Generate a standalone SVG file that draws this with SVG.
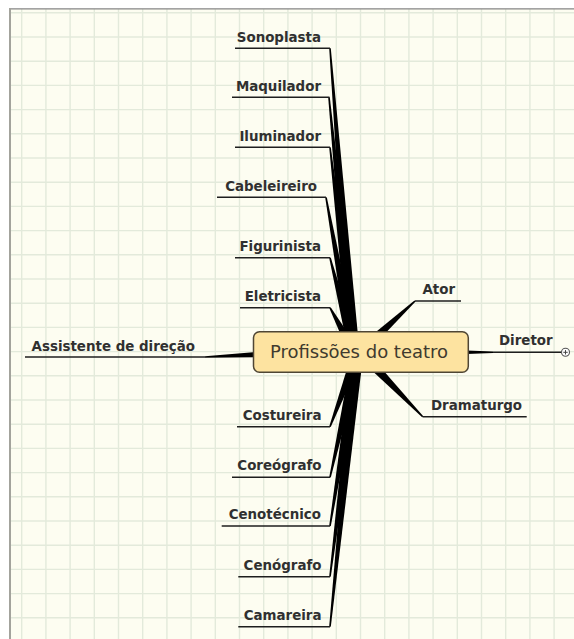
<svg xmlns="http://www.w3.org/2000/svg" width="574" height="639" viewBox="0 0 574 639">
<style>
.grid{stroke:#e3eadb;stroke-width:1.4;fill:none}
.ul{stroke:#1e1e1e;stroke-width:1.5;fill:none}
.w{fill:#000}
.lbl{font-family:"DejaVu Sans",Verdana,sans-serif;font-weight:bold;font-size:13.4px;fill:#303030}
.l{text-anchor:end}
.r{text-anchor:start}
.ctr{font-family:"DejaVu Sans",Verdana,sans-serif;font-size:18px;fill:#403a2e;text-anchor:middle}
</style>
<rect x="0" y="0" width="574" height="639" fill="#ffffff"/>
<rect x="10" y="9" width="564" height="630" fill="#fdfdf1"/>
<path class="grid" d="M21.7 9V639M45.9 9V639M70.1 9V639M94.3 9V639M118.5 9V639M142.7 9V639M166.9 9V639M191.1 9V639M215.3 9V639M239.5 9V639M263.7 9V639M287.9 9V639M312.1 9V639M336.3 9V639M360.5 9V639M384.7 9V639M408.9 9V639M433.1 9V639M457.3 9V639M481.5 9V639M505.7 9V639M529.9 9V639M554.1 9V639M10 12.8H574M10 37H574M10 61.2H574M10 85.4H574M10 109.6H574M10 133.8H574M10 158H574M10 182.2H574M10 206.4H574M10 230.6H574M10 254.8H574M10 279H574M10 303.2H574M10 327.4H574M10 351.6H574M10 375.8H574M10 400H574M10 424.2H574M10 448.4H574M10 472.6H574M10 496.8H574M10 521H574M10 545.2H574M10 569.4H574M10 593.6H574M10 617.8H574"/>
<line x1="9" y1="8.8" x2="574" y2="8.8" stroke="#858585" stroke-width="1.3"/>
<line x1="10" y1="8" x2="10" y2="639" stroke="#a3a39c" stroke-width="2"/>

<g id="connectors">
<polygon class="w" points="329.20,48.36 348.52,352.43 359.48,351.57 330.80,48.24"/>
<polygon class="w" points="328.20,97.38 348.53,352.54 359.47,351.46 329.80,97.22"/>
<polygon class="w" points="329.21,147.39 348.54,352.64 359.46,351.36 330.79,147.21"/>
<polygon class="w" points="325.21,197.44 348.59,352.98 359.41,351.02 326.79,197.16"/>
<polygon class="w" points="329.22,257.90 348.67,353.36 359.33,350.64 330.78,257.50"/>
<polygon class="w" points="329.30,308.08 349.17,354.62 358.83,349.38 330.70,307.32"/>
<polygon class="w" points="330.75,426.98 363.15,353.93 352.85,350.07 329.25,426.42"/>
<polygon class="w" points="330.78,477.47 363.37,353.20 352.63,350.80 329.22,477.13"/>
<polygon class="w" points="330.79,526.13 363.43,352.87 352.57,351.13 329.21,525.87"/>
<polygon class="w" points="330.79,576.80 363.46,352.68 352.54,351.32 329.21,576.60"/>
<polygon class="w" points="330.80,626.78 363.47,352.56 352.53,351.44 329.20,626.62"/>
<polygon class="w" points="414.46,300.41 356.26,347.97 363.74,356.03 415.54,301.59"/>
<polygon class="w" points="423.27,416.14 363.95,348.17 356.05,355.83 422.13,417.26"/>
<polygon class="w" points="440,349.6 493,351.5 493,353.1 440,355"/>
<polygon class="w" points="205,356.2 270,351 270,357 205,357.7"/>
</g>

<g id="sonoplasta"><line class="ul" x1="235" y1="48.3" x2="330" y2="48.3"/><text class="lbl l" x="321" y="41.5">Sonoplasta</text></g>
<g id="maquilador"><line class="ul" x1="232" y1="97.3" x2="329.5" y2="97.3"/><text class="lbl l" x="321" y="90.5">Maquilador</text></g>
<g id="iluminador"><line class="ul" x1="235" y1="147.3" x2="330" y2="147.3"/><text class="lbl l" x="321" y="140.5">Iluminador</text></g>
<g id="cabeleireiro"><line class="ul" x1="217" y1="197.3" x2="326" y2="197.3"/><text class="lbl l" x="317" y="190.5">Cabeleireiro</text></g>
<g id="figurinista"><line class="ul" x1="235" y1="257.7" x2="330" y2="257.7"/><text class="lbl l" x="321" y="250.8">Figurinista</text></g>
<g id="eletricista"><line class="ul" x1="240" y1="307.7" x2="330" y2="307.7"/><text class="lbl l" x="321" y="300.8">Eletricista</text></g>
<g id="costureira"><line class="ul" x1="237" y1="426.7" x2="330" y2="426.7"/><text class="lbl l" x="321.5" y="419.7">Costureira</text></g>
<g id="coreografo"><line class="ul" x1="232" y1="477.3" x2="330" y2="477.3"/><text class="lbl l" x="321.5" y="470.3">Coreógrafo</text></g>
<g id="cenotecnico"><line class="ul" x1="221.7" y1="526" x2="330" y2="526"/><text class="lbl l" x="321" y="519">Cenotécnico</text></g>
<g id="cenografo"><line class="ul" x1="238.3" y1="576.7" x2="330" y2="576.7"/><text class="lbl l" x="321.5" y="569.7">Cenógrafo</text></g>
<g id="camareira"><line class="ul" x1="238.3" y1="626.7" x2="330" y2="626.7"/><text class="lbl l" x="321.5" y="619.7">Camareira</text></g>
<g id="assistente"><line class="ul" x1="25" y1="356.9" x2="205" y2="356.9"/><text class="lbl l" x="195" y="350.6">Assistente de direção</text></g>
<g id="ator"><line class="ul" x1="415" y1="301" x2="461" y2="301"/><text class="lbl r" x="422.5" y="294">Ator</text></g>
<g id="diretor"><line class="ul" x1="493" y1="352.3" x2="561.5" y2="352.3"/><text class="lbl r" x="499" y="345.3">Diretor</text>
<circle cx="565.5" cy="352.3" r="4" fill="#ffffff" stroke="#555" stroke-width="1.1"/><path d="M563.3 352.3H567.7M565.5 350.1V354.5" stroke="#444" stroke-width="1"/></g>
<g id="dramaturgo"><line class="ul" x1="422.7" y1="416.7" x2="526.7" y2="416.7"/><text class="lbl r" x="431" y="409.7">Dramaturgo</text></g>

<g id="center">
<rect x="253.5" y="331.7" width="214.8" height="40.6" rx="6" ry="6" fill="#fde3a0" stroke="#4f4634" stroke-width="1.5"/>
<text class="ctr" x="359" y="357.5">Profissões do teatro</text>
</g>
</svg>
